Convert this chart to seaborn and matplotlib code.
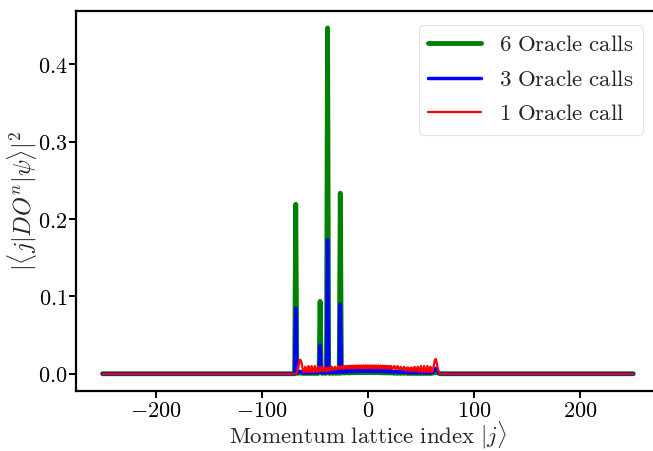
import numpy as np
import pandas as pd
import matplotlib
matplotlib.use("Agg")
import matplotlib.pyplot as plt
from matplotlib.ticker import FuncFormatter
import seaborn as sns

# Momentum lattice sites and the window where the populations are non-zero
lattice = np.arange(-250, 251)
window_start, window_stop = -70, 70

# |<j|DO^n|psi>|^2 on sites j = -70 ... 70 (zero outside this window)
prob_6_calls = [
    0, 0, 0.219, 0.001, 0.0005, 0.001, 0.001, 0.001, 0.0005, 0.0005,
    0.001, 0.0005, 0.0005, 0.001, 0.0005, 0.0005, 0.001, 0.0005, 0.0005, 0.001,
    0.0005, 0.0005, 0.001, 0.0005, 0.001, 0.0935, 0.001, 0.0005, 0.001, 0.001,
    0.0005, 0.001, 0.447, 0.001, 0.0005, 0.001, 0.001, 0.0005, 0.001, 0.001,
    0.0005, 0.001, 0.001, 0.0005, 0.2334, 0.001, 0.001, 0.0015, 0.001, 0.0015,
    0.002, 0.001, 0.002, 0.001, 0.0022, 0.0012, 0.0023, 0.0012, 0.0024, 0.0013,
    0.0025, 0.0013, 0.0025, 0.0013, 0.0026, 0.0014, 0.0026, 0.0014, 0.0026, 0.0014,
    0.0026, 0.0014, 0.0026, 0.0014, 0.0026, 0.0013, 0.0025, 0.0013, 0.0025, 0.0013,
    0.0024, 0.0012, 0.0023, 0.0012, 0.0022, 0.001, 0.002, 0.001, 0.002, 0.001,
    0.0015, 0.001, 0.0015, 0.001, 0.001, 0.0005, 0.001, 0.001, 0.0005, 0.001,
    0.001, 0.0005, 0.001, 0.001, 0.0005, 0.001, 0.001, 0.0005, 0.001, 0.0005,
    0.001, 0.0005, 0.0005, 0.001, 0.0005, 0.0005, 0.001, 0.0005, 0.0005, 0.001,
    0.0005, 0.0005, 0.001, 0.0005, 0.0005, 0.001, 0.0005, 0.0005, 0.001, 0.0005,
    0.0005, 0.001, 0.001, 0.002, 0.002, 0.002, 0.001, 0.0005, 0, 0,
    0,
]

prob_3_calls = [
    0, 0, 0.085, 0.002, 0.001, 0.002, 0.003, 0.003, 0.002, 0.001,
    0.001, 0.003, 0.001, 0.001, 0.003, 0.001, 0.001, 0.003, 0.002, 0.001,
    0.003, 0.002, 0.001, 0.003, 0.002, 0.0366, 0.002, 0.002, 0.001, 0.003,
    0.002, 0.001, 0.1735, 0.002, 0.001, 0.002, 0.003, 0.002, 0.002, 0.003,
    0.002, 0.002, 0.003, 0.002, 0.090, 0.003, 0.002, 0.003, 0.004, 0.002,
    0.0045, 0.0025, 0.0047, 0.0026, 0.0049, 0.0027, 0.0050, 0.0028, 0.0051, 0.0029,
    0.0052, 0.0030, 0.0053, 0.0030, 0.0054, 0.0031, 0.0054, 0.0031, 0.0055, 0.0031,
    0.0055, 0.0031, 0.0055, 0.0031, 0.0054, 0.0031, 0.0054, 0.0030, 0.0053, 0.0030,
    0.0052, 0.0029, 0.0051, 0.0028, 0.0050, 0.0027, 0.0049, 0.0026, 0.0047, 0.0025,
    0.0045, 0.002, 0.004, 0.003, 0.002, 0.003, 0.003, 0.002, 0.003, 0.002,
    0.003, 0.002, 0.002, 0.003, 0.002, 0.002, 0.003, 0.002, 0.001, 0.003,
    0.002, 0.001, 0.003, 0.002, 0.001, 0.003, 0.002, 0.001, 0.003, 0.002,
    0.001, 0.003, 0.002, 0.001, 0.003, 0.001, 0.001, 0.003, 0.001, 0.001,
    0.003, 0.002, 0.003, 0.005, 0.007, 0.006, 0.003, 0.001, 0, 0,
    0,
]

prob_1_call = [
    0, 0, 0, 0.001, 0.005, 0.013, 0.018, 0.017, 0.010, 0.004,
    0.002, 0.009, 0.003, 0.002, 0.010, 0.004, 0.002, 0.010, 0.005, 0.002,
    0.010, 0.006, 0.002, 0.009, 0.006, 0.003, 0.009, 0.007, 0.003, 0.008,
    0.007, 0.003, 0.008, 0.008, 0.004, 0.007, 0.009, 0.005, 0.006, 0.009,
    0.006, 0.006, 0.010, 0.007, 0.006, 0.010, 0.008, 0.006, 0.010, 0.007,
    0.0100, 0.0066, 0.0103, 0.0067, 0.0104, 0.0068, 0.0105, 0.0069, 0.0106, 0.0070,
    0.0106, 0.0071, 0.0107, 0.0071, 0.0107, 0.0072, 0.0108, 0.0072, 0.0108, 0.0072,
    0.0108, 0.0072, 0.0108, 0.0072, 0.0107, 0.0071, 0.0107, 0.0071, 0.0106, 0.0070,
    0.0106, 0.0069, 0.0105, 0.0068, 0.0104, 0.0067, 0.0103, 0.0066, 0.0102, 0.0065,
    0.0100, 0.007, 0.010, 0.006, 0.008, 0.010, 0.006, 0.007, 0.010, 0.006,
    0.006, 0.009, 0.006, 0.005, 0.009, 0.007, 0.004, 0.008, 0.008, 0.003,
    0.007, 0.008, 0.003, 0.007, 0.009, 0.003, 0.006, 0.009, 0.002, 0.006,
    0.010, 0.002, 0.005, 0.010, 0.002, 0.004, 0.010, 0.002, 0.003, 0.009,
    0.002, 0.004, 0.010, 0.017, 0.019, 0.013, 0.005, 0.001, 0, 0,
    0,
]

series_labels = [
    r"$\mathrm{6\ Oracle\ calls}$",
    r"$\mathrm{3\ Oracle\ calls}$",
    r"$\mathrm{1\ Oracle\ call}$",
]
series_values = [prob_6_calls, prob_3_calls, prob_1_call]
series_colors = ["green", "blue", "red"]
series_widths = [3.5, 2.5, 1.6]


def on_lattice(values):
    full = np.zeros(lattice.size)
    lo = window_start - lattice[0]
    full[lo:lo + len(values)] = values
    return full


frames = [
    pd.DataFrame({"j": lattice, "prob": on_lattice(v), "series": lab})
    for v, lab in zip(series_values, series_labels)
]

sns.set_style("ticks")
plt.rcParams.update({
    "mathtext.fontset": "cm",
    "font.family": ["DejaVu Serif"],
    "axes.linewidth": 1.6,
    "xtick.major.width": 1.4,
    "ytick.major.width": 1.4,
    "xtick.major.size": 5,
    "ytick.major.size": 5,
    "xtick.major.pad": 1.5,
    "ytick.major.pad": 1.0,
    "xtick.color": "black",
    "ytick.color": "black",
    "axes.edgecolor": "black",
})

fig = plt.figure(figsize=(6.53, 4.51), dpi=100)
ax = fig.add_axes([0.1164, 0.1330, 0.894, 0.8433])

for df, color, lw in zip(frames, series_colors, series_widths):
    sns.lineplot(data=df, x="j", y="prob", color=color, linewidth=lw,
                 label=df["series"].iloc[0], ax=ax, estimator=None)

ax.set_xticks([-200, -100, 0, 100, 200])
ax.set_yticks([0.0, 0.1, 0.2, 0.3, 0.4])
ax.xaxis.set_major_formatter(FuncFormatter(lambda v, p: r"$%d$" % v))
ax.yaxis.set_major_formatter(FuncFormatter(lambda v, p: r"$%.1f$" % v))
ax.tick_params(labelsize=16)

ax.set_xlabel(r"$\mathrm{Momentum\ lattice\ index}\ |j\rangle$", fontsize=16.5, labelpad=-1.5)
ax.set_ylabel(r"$|\langle j|DO^n|\psi\rangle|^2$", fontsize=17.5, labelpad=-1)

leg = ax.legend(loc="upper right", bbox_to_anchor=(643 / 653, 1 - 25 / 451),
                bbox_transform=fig.transFigure, borderaxespad=0, fontsize=16.5,
                handlelength=2.3, labelspacing=0.55, frameon=True, fancybox=True)
leg.get_frame().set_edgecolor("#dddddd")
leg.get_frame().set_linewidth(0.8)

fig.savefig("out.png", dpi=100)
